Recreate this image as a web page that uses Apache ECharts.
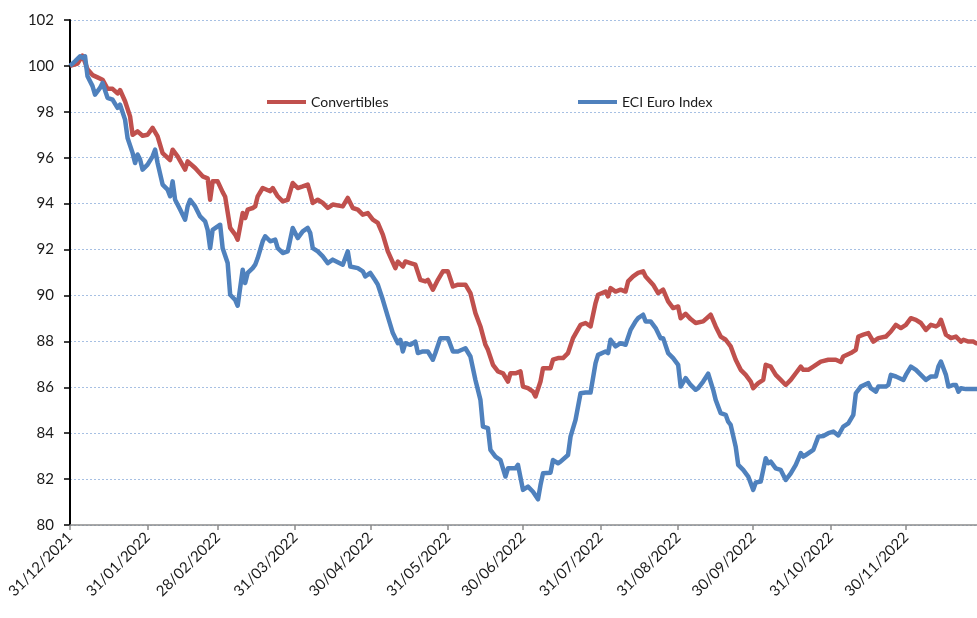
<!DOCTYPE html>
<html>
<head>
<meta charset="utf-8">
<script src="https://cdn.jsdelivr.net/npm/echarts@6/dist/echarts.min.js"></script>
<style>
html,body{margin:0;padding:0;background:#fff;}
#chart{width:977px;height:618px;}
</style>
</head>
<body>
<div id="chart"></div>
<script>
const seriesNames = ['Convertibles', 'ECI Euro Index'];

const convDates = ['2021-12-31','2022-01-03','2022-01-05','2022-01-07','2022-01-09','2022-01-11','2022-01-13','2022-01-15','2022-01-17','2022-01-19','2022-01-20','2022-01-22','2022-01-24','2022-01-25','2022-01-27','2022-01-29','2022-01-31',
'2022-02-02','2022-02-04','2022-02-06','2022-02-09','2022-02-10','2022-02-12','2022-02-15','2022-02-16','2022-02-19','2022-02-22','2022-02-24','2022-02-25','2022-02-26','2022-02-28',
'2022-03-02','2022-03-03','2022-03-05','2022-03-07','2022-03-08','2022-03-10','2022-03-11','2022-03-12','2022-03-14','2022-03-15','2022-03-16','2022-03-18','2022-03-21','2022-03-22','2022-03-24','2022-03-26','2022-03-28','2022-03-30',
'2022-04-01','2022-04-03','2022-04-05','2022-04-06','2022-04-07','2022-04-09','2022-04-11','2022-04-13','2022-04-15','2022-04-19','2022-04-21','2022-04-23','2022-04-25','2022-04-27','2022-04-29',
'2022-05-01','2022-05-03','2022-05-05','2022-05-07','2022-05-10','2022-05-11','2022-05-13','2022-05-14','2022-05-16','2022-05-18','2022-05-20','2022-05-22','2022-05-23','2022-05-25','2022-05-27','2022-05-29','2022-05-31',
'2022-06-02','2022-06-04','2022-06-07','2022-06-09','2022-06-11','2022-06-13','2022-06-15','2022-06-16','2022-06-18','2022-06-20','2022-06-22','2022-06-24','2022-06-25','2022-06-27','2022-06-29','2022-06-30',
'2022-07-02','2022-07-04','2022-07-05','2022-07-07','2022-07-08','2022-07-11','2022-07-12','2022-07-14','2022-07-16','2022-07-18','2022-07-20','2022-07-23','2022-07-25','2022-07-27','2022-07-29','2022-07-30',
'2022-08-02','2022-08-03','2022-08-04','2022-08-06','2022-08-08','2022-08-10','2022-08-11','2022-08-13','2022-08-15','2022-08-17','2022-08-18','2022-08-21','2022-08-23','2022-08-25','2022-08-27','2022-08-29','2022-08-31',
'2022-09-01','2022-09-03','2022-09-05','2022-09-07','2022-09-10','2022-09-13','2022-09-15','2022-09-17','2022-09-19','2022-09-21','2022-09-23','2022-09-25','2022-09-27','2022-09-29','2022-09-30',
'2022-10-02','2022-10-04','2022-10-05','2022-10-07','2022-10-09','2022-10-11','2022-10-13','2022-10-15','2022-10-17','2022-10-19','2022-10-20','2022-10-22','2022-10-24','2022-10-27','2022-10-30',
'2022-11-02','2022-11-04','2022-11-05','2022-11-08','2022-11-10','2022-11-11','2022-11-13','2022-11-15','2022-11-17','2022-11-19','2022-11-22','2022-11-24','2022-11-26','2022-11-28','2022-11-30',
'2022-12-02','2022-12-04','2022-12-06','2022-12-08','2022-12-10','2022-12-12','2022-12-13','2022-12-14','2022-12-16','2022-12-18','2022-12-20','2022-12-22','2022-12-23','2022-12-25','2022-12-27','2022-12-28','2022-12-30'];

const convValues = [100.0,100.1,100.45,99.85,99.6,99.5,99.4,99.0,99.0,98.8,98.95,98.46,97.8,97.0,97.15,96.96,97.0,
97.3,96.93,96.2,95.9,96.35,96.06,95.48,95.84,95.55,95.19,95.1,94.17,94.97,94.97,
94.5,94.3,92.94,92.65,92.43,93.59,93.37,93.74,93.81,93.88,94.32,94.68,94.54,94.68,94.32,94.1,94.17,94.9,
94.68,94.75,94.83,94.46,94.03,94.17,94.03,93.81,93.96,93.88,94.25,93.81,93.74,93.52,93.59,
93.3,93.16,92.65,91.92,91.19,91.48,91.26,91.48,91.41,91.34,90.68,90.61,90.68,90.25,90.68,91.05,91.05,
90.39,90.47,90.47,90.1,89.23,88.65,87.85,87.63,86.98,86.69,86.61,86.25,86.61,86.61,86.69,86.03,
85.96,85.81,85.6,86.25,86.83,86.83,87.2,87.27,87.27,87.49,88.14,88.72,88.8,88.65,89.67,90.03,
90.17,89.96,90.32,90.17,90.25,90.17,90.61,90.83,90.98,91.05,90.83,90.47,90.1,90.25,89.74,89.45,89.52,
89.01,89.2,88.97,88.8,88.87,89.16,88.65,88.21,88.07,87.78,87.2,86.76,86.54,86.25,85.96,
86.18,86.32,86.98,86.9,86.54,86.32,86.1,86.32,86.61,86.9,86.76,86.76,86.9,87.12,87.2,
87.2,87.1,87.34,87.49,87.63,88.21,88.29,88.36,87.99,88.14,88.21,88.43,88.72,88.58,88.72,
89.01,88.94,88.8,88.5,88.72,88.65,88.72,88.94,88.29,88.14,88.21,87.99,88.07,87.99,87.99,87.92,87.92];

const eciDates = ['2021-12-31','2022-01-02','2022-01-04','2022-01-05','2022-01-06','2022-01-07','2022-01-09','2022-01-10','2022-01-12','2022-01-13','2022-01-15','2022-01-17','2022-01-19','2022-01-20','2022-01-22','2022-01-23','2022-01-25','2022-01-26','2022-01-27','2022-01-28','2022-01-29','2022-01-31',
'2022-02-02','2022-02-03','2022-02-04','2022-02-06','2022-02-08','2022-02-09','2022-02-10','2022-02-11','2022-02-13','2022-02-15','2022-02-16','2022-02-17','2022-02-19','2022-02-21','2022-02-23','2022-02-24','2022-02-25','2022-02-26','2022-02-28',
'2022-03-01','2022-03-02','2022-03-04','2022-03-05','2022-03-07','2022-03-08','2022-03-10','2022-03-11','2022-03-12','2022-03-14','2022-03-15','2022-03-16','2022-03-18','2022-03-19','2022-03-21','2022-03-23','2022-03-24','2022-03-26','2022-03-28','2022-03-30',
'2022-04-01','2022-04-03','2022-04-05','2022-04-06','2022-04-07','2022-04-09','2022-04-11','2022-04-13','2022-04-15','2022-04-19','2022-04-21','2022-04-22','2022-04-25','2022-04-27','2022-04-28','2022-04-30',
'2022-05-02','2022-05-03','2022-05-05','2022-05-07','2022-05-09','2022-05-11','2022-05-12','2022-05-13','2022-05-14','2022-05-16','2022-05-18','2022-05-19','2022-05-21','2022-05-23','2022-05-25','2022-05-26','2022-05-28','2022-05-31',
'2022-06-02','2022-06-04','2022-06-07','2022-06-09','2022-06-11','2022-06-13','2022-06-14','2022-06-16','2022-06-17','2022-06-19','2022-06-21','2022-06-23','2022-06-24','2022-06-27','2022-06-28','2022-06-30',
'2022-07-02','2022-07-04','2022-07-06','2022-07-07','2022-07-08','2022-07-11','2022-07-12','2022-07-14','2022-07-15','2022-07-18','2022-07-19','2022-07-21','2022-07-23','2022-07-25','2022-07-27','2022-07-29','2022-07-30',
'2022-08-02','2022-08-03','2022-08-04','2022-08-06','2022-08-08','2022-08-10','2022-08-12','2022-08-14','2022-08-15','2022-08-17','2022-08-18','2022-08-20','2022-08-22','2022-08-24','2022-08-25','2022-08-27','2022-08-29','2022-08-31',
'2022-09-01','2022-09-03','2022-09-05','2022-09-07','2022-09-08','2022-09-10','2022-09-12','2022-09-14','2022-09-15','2022-09-17','2022-09-19','2022-09-20','2022-09-21','2022-09-23','2022-09-24','2022-09-26','2022-09-28','2022-09-30',
'2022-10-01','2022-10-03','2022-10-05','2022-10-06','2022-10-07','2022-10-09','2022-10-11','2022-10-13','2022-10-15','2022-10-17','2022-10-19','2022-10-20','2022-10-21','2022-10-24','2022-10-26','2022-10-28','2022-10-30',
'2022-11-01','2022-11-03','2022-11-05','2022-11-07','2022-11-09','2022-11-10','2022-11-12','2022-11-15','2022-11-16','2022-11-18','2022-11-19','2022-11-22','2022-11-23','2022-11-24','2022-11-26','2022-11-29','2022-11-30',
'2022-12-02','2022-12-04','2022-12-06','2022-12-08','2022-12-09','2022-12-10','2022-12-12','2022-12-13','2022-12-14','2022-12-16','2022-12-17','2022-12-19','2022-12-20','2022-12-21','2022-12-22','2022-12-24','2022-12-26','2022-12-28','2022-12-30'];

const eciValues = [100.0,100.2,100.42,100.35,100.42,99.55,99.12,98.75,99.04,99.26,98.61,98.53,98.17,98.31,97.66,96.86,96.21,95.77,96.14,95.92,95.48,95.7,
96.06,96.35,95.77,94.83,94.61,94.32,94.97,94.17,93.74,93.3,93.88,94.17,93.88,93.44,93.23,92.86,92.06,92.86,93.01,
93.08,92.06,91.41,90.03,89.81,89.55,91.12,90.54,90.98,91.19,91.34,91.63,92.36,92.58,92.36,92.43,92.06,91.85,91.92,92.94,
92.5,92.79,92.94,92.72,92.06,91.92,91.7,91.41,91.56,91.34,91.92,91.26,91.19,91.05,90.83,90.98,
90.65,90.47,89.81,89.08,88.36,87.92,88.07,87.56,87.92,87.85,87.99,87.49,87.56,87.56,87.2,87.49,88.14,88.14,
87.56,87.56,87.7,87.34,86.32,85.45,84.29,84.22,83.27,82.98,82.83,82.11,82.47,82.47,82.62,81.53,
81.67,81.45,81.12,81.74,82.25,82.28,82.83,82.69,82.76,83.05,83.85,84.58,85.74,85.77,85.77,87.05,87.41,
87.56,87.49,88.07,87.78,87.92,87.85,88.5,88.87,89.01,89.16,88.87,88.87,88.58,88.14,88.14,87.49,87.27,86.98,
86.03,86.4,86.1,85.89,85.96,86.25,86.59,85.89,85.45,84.87,84.8,84.5,84.36,83.41,82.62,82.4,82.11,81.53,
81.85,81.89,82.91,82.69,82.76,82.47,82.4,81.96,82.25,82.62,83.13,82.98,83.05,83.27,83.85,83.88,84.0,
84.07,83.9,84.29,84.43,84.8,85.74,86.03,86.18,85.96,85.81,86.03,86.03,86.1,86.54,86.47,86.32,86.54,
86.9,86.76,86.54,86.32,86.4,86.47,86.47,86.9,87.12,86.54,86.03,86.1,86.1,85.81,85.96,85.92,85.92,85.92,85.92];

const tickDates = ['2021-12-31','2022-01-31','2022-02-28','2022-03-31','2022-04-30','2022-05-31','2022-06-30','2022-07-31','2022-08-31','2022-09-30','2022-10-31','2022-11-30'];
const tickLabels = ['31/12/2021','31/01/2022','28/02/2022','31/03/2022','30/04/2022','31/05/2022','30/06/2022','31/07/2022','31/08/2022','30/09/2022','31/10/2022','30/11/2022'];

const yMin = 80, yMax = 102, yStep = 2;
const xStart = '2021-12-31', xEnd = '2022-12-28';

function toTs(s) {
  const p = s.split('-').map(Number);
  return Date.UTC(p[0], p[1] - 1, p[2]);
}
const tickTs = tickDates.map(toTs);

const chart = echarts.init(document.getElementById('chart'), null, {renderer: 'canvas'});
const FONT = 'Lato';

chart.setOption({
  animation: false,
  backgroundColor: '#ffffff',
  grid: {left: 70, right: 0, top: 20, bottom: 93, containLabel: false},
  legend: [
    {
      data: [seriesNames[0]], left: 262, top: 90, icon: 'rect', itemWidth: 39, itemHeight: 4, itemGap: 0,
      textStyle: {fontFamily: FONT, fontSize: 14, color: '#1a1a1a'}
    },
    {
      data: [seriesNames[1]], left: 573, top: 90, icon: 'rect', itemWidth: 39, itemHeight: 4, itemGap: 0,
      textStyle: {fontFamily: FONT, fontSize: 14, color: '#1a1a1a'}
    }
  ],
  xAxis: {
    type: 'value',
    min: toTs(xStart),
    max: toTs(xEnd) + 10 * 3600 * 1000,
    axisLine: {show: true, onZero: false, lineStyle: {color: '#8c8c8c', width: 1.5}},
    axisTick: {show: true, length: 5, lineStyle: {color: '#8c8c8c', width: 1.5}, customValues: tickTs},
    axisLabel: {
      customValues: tickTs,
      rotate: 45,
      margin: 10,
      fontFamily: FONT,
      fontSize: 15,
      color: '#1a1a1a',
      showMinLabel: true,
      showMaxLabel: true,
      hideOverlap: false,
      formatter: function (v) {
        let best = 0;
        for (let i = 1; i < tickTs.length; i++) {
          if (Math.abs(tickTs[i] - v) < Math.abs(tickTs[best] - v)) best = i;
        }
        return tickLabels[best];
      }
    },
    splitLine: {show: false}
  },
  yAxis: {
    type: 'value',
    min: yMin, max: yMax, interval: yStep,
    axisLine: {show: true, onZero: false, lineStyle: {color: '#000000', width: 2}},
    axisTick: {show: true, length: 6, lineStyle: {color: '#000000', width: 1.5}},
    axisLabel: {fontFamily: FONT, fontSize: 15, color: '#1a1a1a', margin: 16},
    splitLine: {show: true, lineStyle: {color: '#a7c0e3', type: [2, 2], width: 1}}
  },
  series: [
    {
      name: seriesNames[0],
      type: 'line',
      data: convDates.map((d, i) => [toTs(d), convValues[i]]),
      showSymbol: false, symbol: 'none',
      lineStyle: {color: '#c0504d', width: 4.5, join: 'round'},
      itemStyle: {color: '#c0504d'},
      clip: true
    },
    {
      name: seriesNames[1],
      type: 'line',
      data: eciDates.map((d, i) => [toTs(d), eciValues[i]]),
      showSymbol: false, symbol: 'none',
      lineStyle: {color: '#4f81bd', width: 4.5, join: 'round'},
      itemStyle: {color: '#4f81bd'},
      clip: true
    }
  ]
});
</script>
</body>
</html>
